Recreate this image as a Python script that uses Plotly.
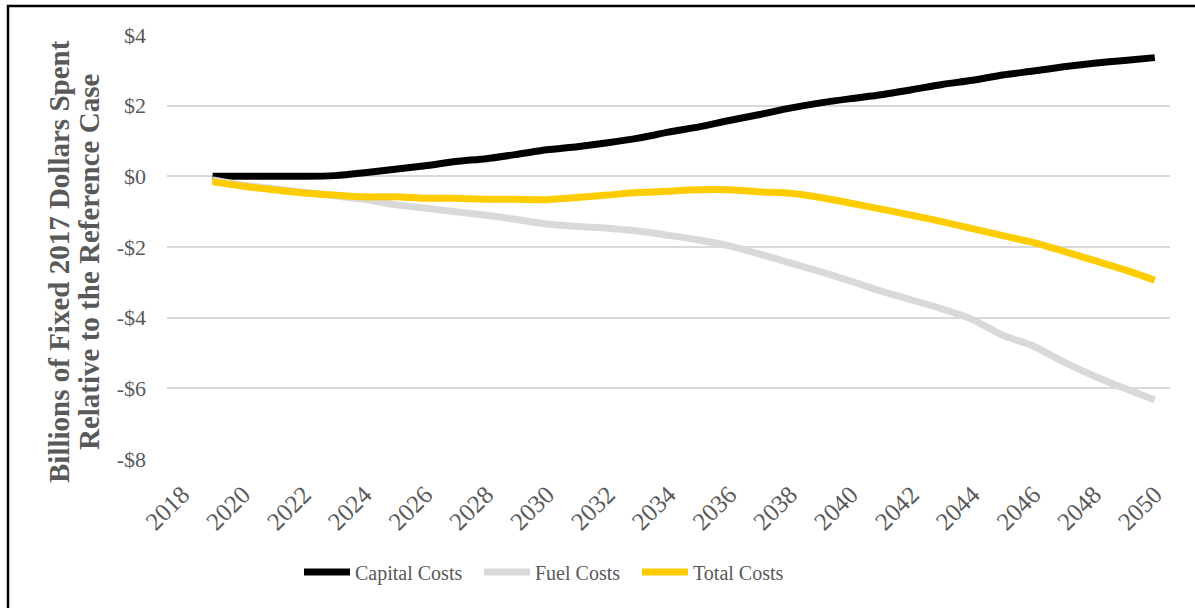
import plotly.graph_objects as go

years = list(range(2019, 2051))

capital_costs = [0.0, 0.0, 0.0, 0.0, 0.02, 0.1, 0.2, 0.3, 0.42, 0.5, 0.62, 0.75,
                 0.84, 0.95, 1.08, 1.25, 1.4, 1.58, 1.75, 1.93, 2.08, 2.2, 2.31,
                 2.45, 2.6, 2.72, 2.87, 2.98, 3.1, 3.2, 3.28, 3.36]
fuel_costs = [-0.1, -0.25, -0.35, -0.45, -0.55, -0.65, -0.8, -0.9, -1.0, -1.1,
              -1.22, -1.35, -1.42, -1.47, -1.55, -1.67, -1.8, -1.97, -2.2, -2.45,
              -2.7, -2.97, -3.25, -3.5, -3.75, -4.05, -4.5, -4.8, -5.25, -5.65,
              -6.0, -6.33]
total_costs = [-0.15, -0.28, -0.38, -0.47, -0.53, -0.58, -0.58, -0.62, -0.62, -0.65,
               -0.65, -0.66, -0.6, -0.53, -0.46, -0.42, -0.38, -0.38, -0.44, -0.48,
               -0.6, -0.76, -0.93, -1.1, -1.28, -1.48, -1.68, -1.87, -2.12, -2.38,
               -2.64, -2.94]

y_tick_vals = [4, 2, 0, -2, -4, -6, -8]
y_tick_text = ["$4", "$2", "$0", "-$2", "-$4", "-$6", "-$8"]

title_lines = ["Billions of Fixed 2017 Dollars Spent", "Relative to the Reference Case"]

FONT = "Liberation Serif"
GREY = "#595959"

# plot area in pixels: x 167..1170, y 35..459
L, R, T, B = 167, 25, 35, 149
W, H = 1195, 608
pw, ph = W - L - R, H - T - B

def px(x):
    return (x - L) / pw

def py(y):
    return (H - B - y) / ph

# each series gets its own legend box so the entries can be spaced freely
series = [
    ("Capital Costs", capital_costs, "#000000", "legend", 299),
    ("Fuel Costs", fuel_costs, "#d9d9d9", "legend2", 479),
    ("Total Costs", total_costs, "#ffcc00", "legend3", 637),
]

fig = go.Figure()
legend_boxes = {}
for name, vals, color, leg, left in series:
    fig.add_trace(go.Scatter(
        x=years, y=vals, name=name, mode="lines", legend=leg,
        line=dict(color=color, width=7, shape="spline", smoothing=0.6),
    ))
    legend_boxes[leg] = dict(
        orientation="h", x=px(left), xanchor="left",
        y=py(572), yanchor="middle", bgcolor="rgba(0,0,0,0)",
        font=dict(family=FONT, size=20, color=GREY), itemwidth=46,
    )

annotations = [
    dict(text=title_lines[0], xref="paper", yref="paper", x=px(59), y=py(262),
         xanchor="center", yanchor="middle", textangle=-90, showarrow=False,
         font=dict(family=FONT, size=29, color=GREY, weight="bold")),
    dict(text=title_lines[1], xref="paper", yref="paper", x=px(89), y=py(262),
         xanchor="center", yanchor="middle", textangle=-90, showarrow=False,
         font=dict(family=FONT, size=29, color=GREY, weight="bold")),
]

fig.update_layout(
    width=W, height=H,
    margin=dict(l=L, r=R, t=T, b=B),
    paper_bgcolor="white", plot_bgcolor="white",
    font=dict(family=FONT, color=GREY, size=20),
    showlegend=True,
    **legend_boxes,
    xaxis=dict(range=[2017.5, 2050.5], tick0=2018, dtick=2, tickangle=-45,
               showgrid=False, zeroline=False, showline=False,
               ticklabelstandoff=15,
               tickfont=dict(family=FONT, size=25, color=GREY)),
    yaxis=dict(range=[-8, 4], tickvals=y_tick_vals, ticktext=y_tick_text,
               showgrid=True, gridcolor="#d9d9d9", gridwidth=1.5,
               zeroline=False, showline=False, ticklabelstandoff=20,
               tickfont=dict(family=FONT, size=22, color=GREY)),
    annotations=annotations,
    shapes=[dict(type="path", xref="paper", yref="paper",
                 path=f"M {px(8)} {py(620)} L {px(8)} {py(6)} L {px(1200)} {py(6)}",
                 line=dict(color="#000000", width=2.5))],
)

fig.write_html("out.html")
